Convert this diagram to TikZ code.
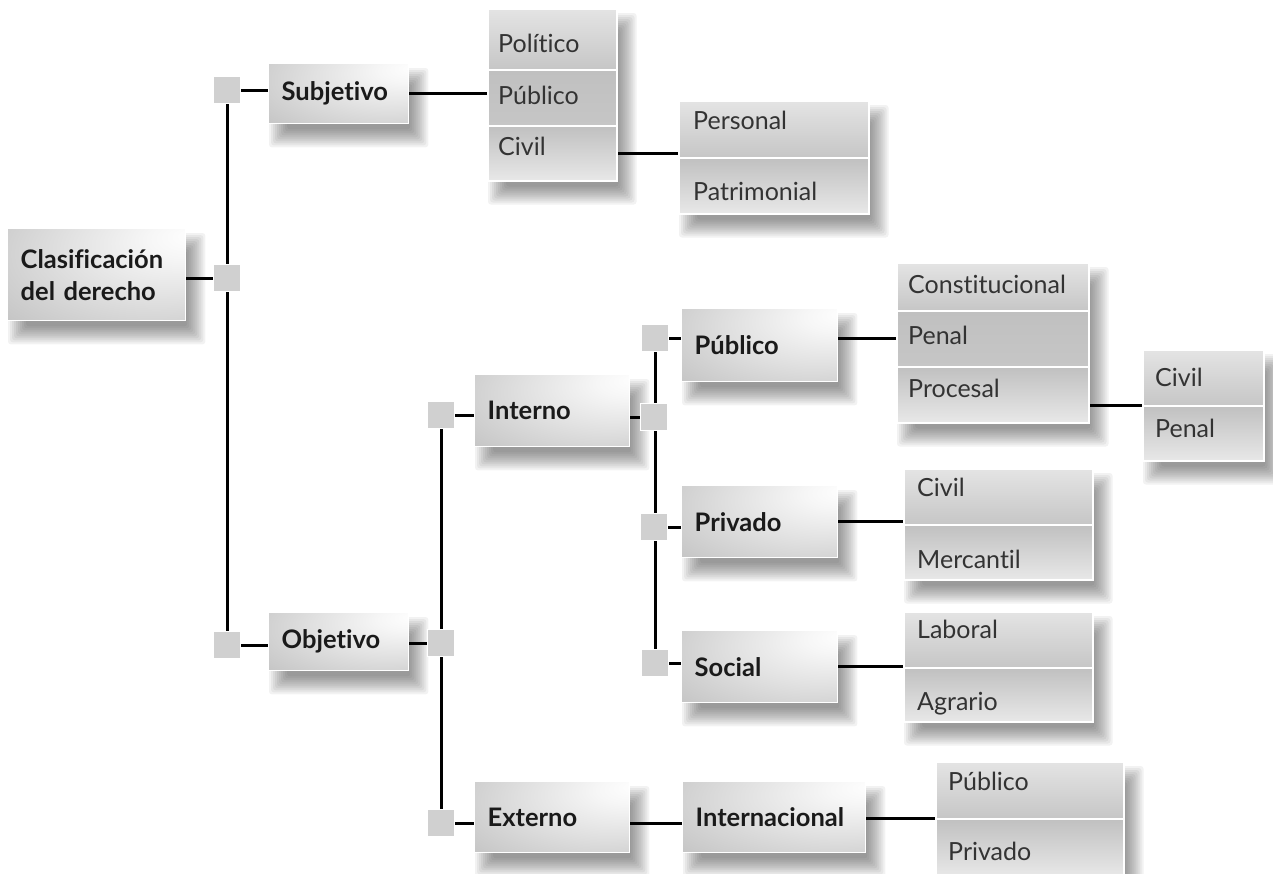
\documentclass[tikz,border=0pt]{standalone}
\usepackage{fontspec}
\setmainfont{Lato}[Ligatures={NoCommon}]
\usetikzlibrary{calc}

\definecolor{ink}{HTML}{1A1A1A}
\definecolor{celltxt}{HTML}{333333}
\definecolor{sqfill}{HTML}{D0D0D0}
\definecolor{hlA}{HTML}{F6F6F6}
\definecolor{hlB}{HTML}{E0E0E0}
\definecolor{hlC}{HTML}{C4C4C4}
\definecolor{hlD}{HTML}{A8A8A8}
\definecolor{cellLight}{HTML}{E4E4E4}
\definecolor{cellMid}{HTML}{C6C6C6}
\definecolor{cellDark}{HTML}{C0C0C0}
\definecolor{cellPale}{HTML}{E8E8E8}
\definecolor{shadowcol}{HTML}{202020}

% light spot towards the upper right of the bold boxes
\pgfdeclareradialshading{boxlight}{\pgfpoint{28bp}{22bp}}{%
  color(0bp)=(white); color(10bp)=(hlA); color(28bp)=(hlB);
  color(50bp)=(hlC); color(80bp)=(hlD)}

\pgfdeclarelayer{shadow}
\pgfdeclarelayer{wires}
\pgfsetlayers{shadow,wires,main}

% soft drop shadow under a block spanning two nodes
\newcommand\softshade[2]{%
  \foreach \k in {0,...,9}{%
    \fill[shadowcol, opacity=0.058, rounded corners=3pt]
      ($(#1.north west)+({1+2*\k},{5+2*\k})$) rectangle
      ($(#2.south east)+({19-2*\k},{23-2*\k})$);
  }}

\begin{document}
\begin{tikzpicture}[x=1pt,y=-1pt,
  mainbox/.style={anchor=north west, shading=boxlight, draw=white,
    line width=1.4pt, inner xsep=13pt, inner ysep=0pt, align=left,
    text=ink, font=\fontsize{25.5}{32}\selectfont\bfseries},
  cellbox/.style={anchor=north west, draw=white, line width=1.6pt,
    inner sep=0pt, shading=axis},
  topcell/.style={cellbox, top color=cellLight, bottom color=cellMid},
  midcell/.style={cellbox, top color=cellDark, bottom color=cellMid},
  botcell/.style={cellbox, top color=cellDark, bottom color=cellPale},
  celltext/.style={anchor=base west, inner sep=0pt, text=celltxt,
    font=\fontsize{25}{30}\selectfont},
  knot/.style={minimum size=27pt, inner sep=0pt, fill=sqfill, draw=white,
    line width=1.2pt},
  wire/.style={draw=black, line width=3pt}]

\useasboundingbox (0,0) rectangle (1273,873);

% ---- bold category boxes
\node[mainbox, minimum width=178pt, minimum height=92pt, text width=152pt]
  (root) at (7,228) {Clasificación\\del derecho};
\node[mainbox, minimum width=140pt, minimum height=60pt, text width=114pt]
  (subj) at (268,63) {Subjetivo};
\node[mainbox, minimum width=140pt, minimum height=58pt, text width=114pt]
  (obj) at (268,612) {Objetivo};
\node[mainbox, minimum width=155pt, minimum height=72pt, text width=129pt]
  (interno) at (474,374) {Interno};
\node[mainbox, minimum width=155pt, minimum height=71pt, text width=129pt]
  (externo) at (474,781) {Externo};
\node[mainbox, minimum width=156pt, minimum height=73pt, text width=130pt]
  (publico) at (681,308) {Público};
\node[mainbox, minimum width=156pt, minimum height=72pt, text width=130pt]
  (privado) at (681,485) {Privado};
\node[mainbox, minimum width=156pt, minimum height=72pt, text width=130pt]
  (social) at (681,630) {Social};
\node[mainbox, minimum width=183pt, minimum height=71pt, text width=157pt]
  (intl) at (682,781) {Internacional};

% ---- stacked lists
\node[topcell, minimum width=129pt, minimum height=61pt] (s1a) at (487,8) {};
\node[midcell, minimum width=129pt, minimum height=56pt] (s1b) at (487,69) {};
\node[botcell, minimum width=129pt, minimum height=55pt] (s1c) at (487,125) {};
\node[celltext] (t1a) at ($(s1a.north west)+(11,44)$) {Político};
\node[celltext] (t1b) at ($(s1b.north west)+(11,35)$) {Público};
\node[celltext] (t1c) at ($(s1c.north west)+(11,30)$) {Civil};

\node[topcell, minimum width=190pt, minimum height=57pt] (s2a) at (678,100) {};
\node[botcell, minimum width=190pt, minimum height=56pt] (s2b) at (678,157) {};
\node[celltext] (t2a) at ($(s2a.north west)+(15,29)$) {Personal};
\node[celltext] (t2b) at ($(s2b.north west)+(15,43)$) {Patrimonial};

\node[topcell, minimum width=192pt, minimum height=48pt] (s3a) at (896,262) {};
\node[midcell, minimum width=192pt, minimum height=56pt] (s3b) at (896,310) {};
\node[botcell, minimum width=192pt, minimum height=56pt] (s3c) at (896,366) {};
\node[celltext] (t3a) at ($(s3a.north west)+(12,31)$) {Constitucional};
\node[celltext] (t3b) at ($(s3b.north west)+(12,34)$) {Penal};
\node[celltext] (t3c) at ($(s3c.north west)+(12,31)$) {Procesal};

\node[topcell, minimum width=121pt, minimum height=56pt] (s4a) at (1142,349) {};
\node[botcell, minimum width=121pt, minimum height=55pt] (s4b) at (1142,405) {};
\node[celltext] (t4a) at ($(s4a.north west)+(13,37)$) {Civil};
\node[celltext] (t4b) at ($(s4b.north west)+(13,32)$) {Penal};

\node[topcell, minimum width=189pt, minimum height=56pt] (s5a) at (903,468) {};
\node[botcell, minimum width=189pt, minimum height=55pt] (s5b) at (903,524) {};
\node[celltext] (t5a) at ($(s5a.north west)+(14,28)$) {Civil};
\node[celltext] (t5b) at ($(s5b.north west)+(14,44)$) {Mercantil};

\node[topcell, minimum width=189pt, minimum height=56pt] (s6a) at (903,611) {};
\node[botcell, minimum width=189pt, minimum height=54pt] (s6b) at (903,667) {};
\node[celltext] (t6a) at ($(s6a.north west)+(14,27)$) {Laboral};
\node[celltext] (t6b) at ($(s6b.north west)+(14,43)$) {Agrario};

\node[topcell, minimum width=188pt, minimum height=57pt] (s7a) at (935,761) {};
\node[botcell, minimum width=188pt, minimum height=57pt] (s7b) at (935,818) {};
\node[celltext] (t7a) at ($(s7a.north west)+(13,29)$) {Público};
\node[celltext] (t7b) at ($(s7b.north west)+(13,42)$) {Privado};

% ---- junction squares
\node[knot] (q0) at (227,278) {};
\node[knot] (q1) at (227,90) {};
\node[knot] (q2) at (227,645) {};
\node[knot] (q3) at (441,643) {};
\node[knot] (q4) at (441,415) {};
\node[knot] (q5) at (441,823) {};
\node[knot] (q6) at (654,417) {};
\node[knot] (q7) at (655,338) {};
\node[knot] (q8) at (654,527) {};
\node[knot] (q9) at (655,663) {};

% ---- shadows
\begin{pgfonlayer}{shadow}
  \foreach \n in {root,subj,obj,interno,externo,publico,privado,social,intl}{
    \softshade{\n}{\n}}
  \softshade{s1a}{s1c}
  \softshade{s2a}{s2b}
  \softshade{s3a}{s3c}
  \softshade{s4a}{s4b}
  \softshade{s5a}{s5b}
  \softshade{s6a}{s6b}
  \softshade{s7a}{s7b}
\end{pgfonlayer}

% ---- connectors
\begin{pgfonlayer}{wires}
  \path[wire] (q1.south) -- (q2.north);
  \path[wire] (root.east |- q0) -- (q0.west);
  \path[wire] (q1.east) -- (subj.west |- q1);
  \path[wire] (q2.east) -- (obj.west |- q2);
  \path[wire] (subj.east) -- (subj.east -| s1b.west);
  \path[wire] (s1c.east) -- (s1c.east -| s2a.west);
  \path[wire] (obj.east |- q3) -- (q3.west);
  \path[wire] (q4.south) -- (q5.north);
  \path[wire] (q4.east) -- (interno.west |- q4);
  \path[wire] (q5.east) -- (externo.west |- q5);
  \path[wire] (interno.east |- q6) -- (q6.west);
  \path[wire] (q7.south) -- (q9.north);
  \path[wire] (q7.east) -- (publico.west |- q7);
  \path[wire] (q8.east) -- (privado.west |- q8);
  \path[wire] (q9.east) -- (social.west |- q9);
  \path[wire] (publico.east |- s3b.west) -- (s3b.west);
  \path[wire] (s3c.east |- s4b.north west) -- (s4b.north west);
  \path[wire] (privado.east) -- (privado.east -| s5a.west);
  \path[wire] (social.east) -- (social.east -| s6a.west);
  \path[wire] (externo.east |- q5) -- (intl.west |- q5);
  \path[wire] (intl.east |- s7b.north west) -- (s7b.north west);
\end{pgfonlayer}
\end{tikzpicture}
\end{document}
